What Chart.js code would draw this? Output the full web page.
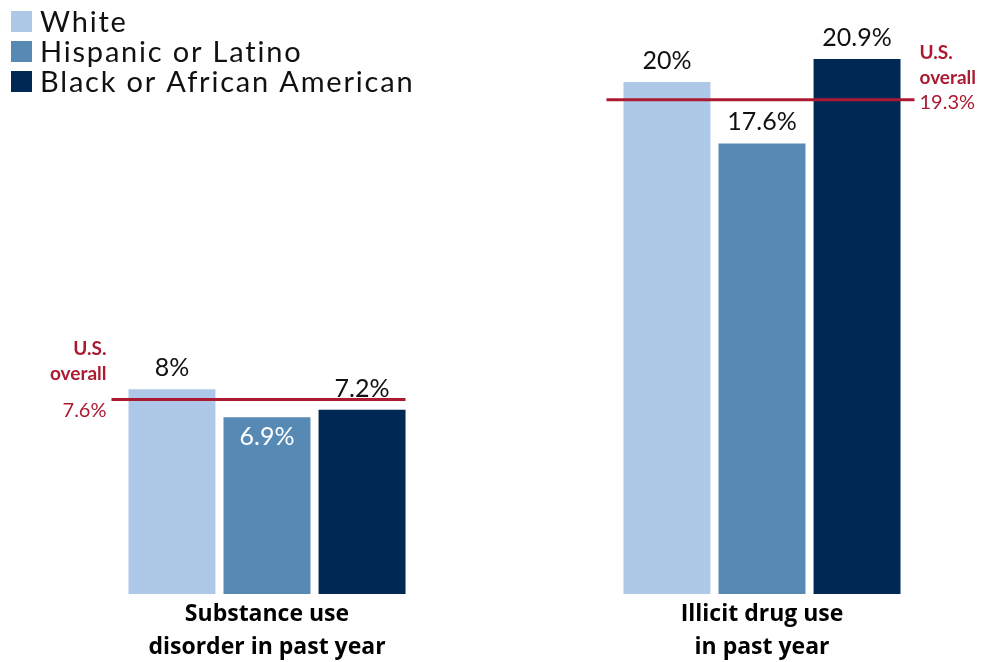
<!DOCTYPE html>
<html>
<head>
<meta charset="utf-8">
<script src="https://cdn.jsdelivr.net/npm/chart.js@4.4.1/dist/chart.umd.min.js"></script>
<style>
  html, body { margin: 0; padding: 0; background: #fff; }
  #wrap { width: 990px; height: 662px; position: relative; }
</style>
</head>
<body>
<div id="wrap"><canvas id="chart"></canvas></div>
<script>
// data
const categories = [['Substance use', 'disorder in past year'], ['Illicit drug use', 'in past year']];
const groups = ['White', 'Hispanic or Latino', 'Black or African American'];
const white = [8, 20];
const hispanic = [6.9, 17.6];
const black = [7.2, 20.9];
const usOverall = [7.6, 19.3];
const refTitle = ['U.S.', 'overall'];

const colors = ['#aec8e8', '#5789b5', '#002855'];
const red = '#ab1a30';
const FONT = 'Lato, "Open Sans", sans-serif';
// which value labels sit inside the bar (white text)
const labelInside = [[false, false], [true, false], [false, false]];

// value labels over / inside bars
const valueLabels = {
  id: 'valueLabels',
  afterDatasetsDraw(chart) {
    const ctx = chart.ctx;
    ctx.save();
    ctx.font = '25px ' + FONT;
    ctx.textAlign = 'center';
    ctx.textBaseline = 'alphabetic';
    chart.data.datasets.forEach((ds, di) => {
      chart.getDatasetMeta(di).data.forEach((bar, i) => {
        const txt = ds.data[i] + '%';
        if (labelInside[di][i]) {
          ctx.fillStyle = '#fff';
          ctx.fillText(txt, bar.x, bar.y + 28);
        } else {
          ctx.fillStyle = '#111';
          ctx.fillText(txt, bar.x, bar.y - 13);
        }
      });
    });
    ctx.restore();
  }
};

// U.S. overall reference lines
const refLines = {
  id: 'refLines',
  afterDatasetsDraw(chart) {
    const ctx = chart.ctx;
    const y = chart.scales.y;
    const first = chart.getDatasetMeta(0).data;
    const last = chart.getDatasetMeta(chart.data.datasets.length - 1).data;
    ctx.save();
    usOverall.forEach((v, i) => {
      const py = y.getPixelForValue(v);
      const x0 = first[i].x - first[i].width / 2 - 17;
      const x1 = last[i].x + last[i].width / 2 + (i === 0 ? 0 : 14);
      ctx.strokeStyle = red;
      ctx.lineWidth = 3;
      ctx.beginPath();
      ctx.moveTo(x0, py);
      ctx.lineTo(x1, py);
      ctx.stroke();

      ctx.fillStyle = red;
      ctx.textBaseline = 'middle';
      let tx;
      if (i === 0) { ctx.textAlign = 'right'; tx = x0 - 5; }
      else { ctx.textAlign = 'left'; tx = x1 + 5; }
      const dy = i === 0 ? 0 : 4;
      ctx.font = 'bold 19px ' + FONT;
      ctx.fillText(refTitle[0], tx, py - 51 + dy);
      ctx.fillText(refTitle[1], tx, py - 26 + dy);
      ctx.font = '20px ' + FONT;
      ctx.fillText(v + '%', tx, py + (i === 0 ? 11 : 3));
    });
    ctx.restore();
  }
};

// stacked legend, top left
const sideLegend = {
  id: 'sideLegend',
  afterDraw(chart) {
    const ctx = chart.ctx;
    ctx.save();
    ctx.font = '29px ' + FONT;
    ctx.letterSpacing = '1.8px';
    ctx.textBaseline = 'middle';
    ctx.textAlign = 'left';
    chart.data.datasets.forEach((ds, i) => {
      const cy = 22 + i * 30;
      ctx.fillStyle = ds.backgroundColor;
      ctx.fillRect(11, cy - 11, 21, 21);
      ctx.fillStyle = '#111';
      ctx.fillText(ds.label, 40, cy + 1);
    });
    ctx.restore();
  }
};

new Chart(document.getElementById('chart'), {
  type: 'bar',
  data: {
    labels: categories,
    datasets: [
      { label: groups[0], data: white, backgroundColor: colors[0] },
      { label: groups[1], data: hispanic, backgroundColor: colors[1] },
      { label: groups[2], data: black, backgroundColor: colors[2] }
    ].map(d => Object.assign(d, { clip: false, borderWidth: 0 }))
  },
  options: {
    responsive: true,
    maintainAspectRatio: false,
    animation: false,
    categoryPercentage: 0.576,
    barPercentage: 0.915,
    layout: { padding: { left: 267, right: 228, top: 0, bottom: -6 } },
    plugins: {
      legend: { display: false },
      tooltip: { enabled: false }
    },
    scales: {
      x: {
        offset: false,
        grid: { display: false, drawTicks: false },
        border: { display: false },
        ticks: {
          color: '#000',
          padding: 4,
          maxRotation: 0,
          autoSkip: false,
          font: { family: '"Open Sans"', weight: 'bold', size: 23, lineHeight: 1.435 }
        }
      },
      y: {
        display: false,
        min: 0,
        max: 23.2
      }
    }
  },
  plugins: [valueLabels, refLines, sideLegend]
});
</script>
</body>
</html>
